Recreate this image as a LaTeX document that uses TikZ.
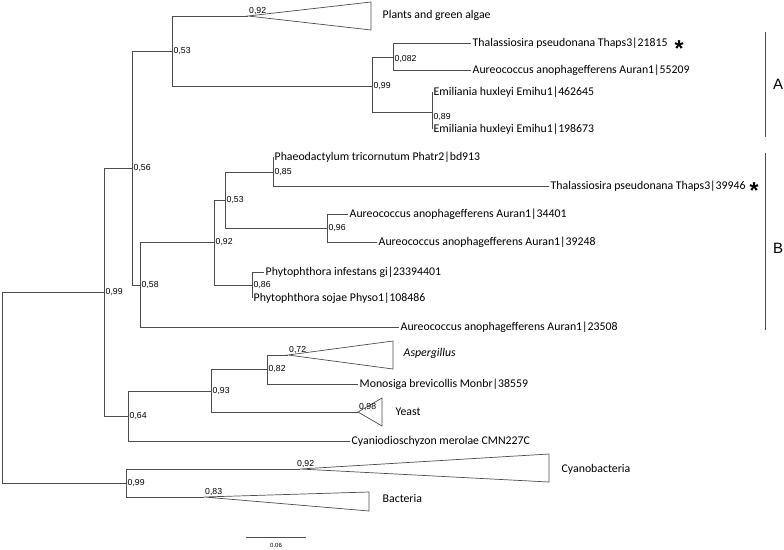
\documentclass[tikz,border=0pt]{standalone}
\usepackage{fontspec}
\setmainfont{Carlito}
\newfontfamily\supportfont{Liberation Sans}
\usetikzlibrary{calc}

\begin{document}
\begin{tikzpicture}[x=1pt,y=-1pt,
  branch/.style={draw=black!70, line width=0.7pt},
  leaf/.style={anchor=west, inner sep=1.5pt, font=\fontsize{11.8}{14}\selectfont},
  support/.style={anchor=west, inner sep=1.5pt, font=\supportfont\fontsize{8.7}{10}\selectfont},
  apexsup/.style={anchor=south west, inner sep=1pt, font=\supportfont\fontsize{8.7}{10}\selectfont},
  groupmark/.style={anchor=center, inner sep=0pt, font=\supportfont\fontsize{15}{15}\selectfont},
  starmark/.style={anchor=center, inner sep=0pt, font=\supportfont\bfseries\fontsize{23}{23}\selectfont}]
  \useasboundingbox (0,0) rectangle (784,549);

  % Internal nodes of the tree
  \coordinate (root) at (2,292);
  \coordinate (n099a) at (104,292);
  \coordinate (n056) at (132,168);
  \coordinate (n053a) at (172,51);
  \coordinate (n099b) at (372,86);
  \coordinate (n082a) at (393,57);
  \coordinate (n089) at (432,112);
  \coordinate (n058) at (140,285);
  \coordinate (n092a) at (214,242);
  \coordinate (n053b) at (225,200);
  \coordinate (n085) at (273,172);
  \coordinate (n096) at (327,228);
  \coordinate (n086) at (252,285);
  \coordinate (n064) at (128,416);
  \coordinate (n093) at (211,391);
  \coordinate (n082b) at (267,369);
  \coordinate (n099c) at (126,483);

  % Collapsed clades (apex and the two far corners)
  \coordinate (plantsA) at (248,16);
  \coordinate (plantsT) at (371,2);
  \coordinate (plantsB) at (371,30);
  \coordinate (asperA) at (288,355);
  \coordinate (asperT) at (393,341);
  \coordinate (asperB) at (393,369);
  \coordinate (yeastA) at (358,412);
  \coordinate (yeastT) at (382,398);
  \coordinate (yeastB) at (382,426);
  \coordinate (cyanoA) at (300,469);
  \coordinate (cyanoT) at (549,454);
  \coordinate (cyanoB) at (549,482);
  \coordinate (bactA) at (204,497);
  \coordinate (bactT) at (369,492);
  \coordinate (bactB) at (369,511);

  % Leaf labels
  \node[leaf] (plants) at (381,15) {Plants and green algae};
  \node[leaf] (t21815) at (471,43) {Thalassiosira pseudonana Thaps3|21815};
  \node[leaf] (a55209) at (471,70) {Aureococcus anophagefferens Auran1|55209};
  \node[leaf] (e462645) at (432,92) {Emiliania huxleyi Emihu1|462645};
  \node[leaf] (e198673) at (432,129) {Emiliania huxleyi Emihu1|198673};
  \node[leaf] (p913) at (273,157) {Phaeodactylum tricornutum Phatr2|bd913};
  \node[leaf] (t39946) at (549,186) {Thalassiosira pseudonana Thaps3|39946};
  \node[leaf] (a34401) at (348,214) {Aureococcus anophagefferens Auran1|34401};
  \node[leaf] (a39248) at (377,242) {Aureococcus anophagefferens Auran1|39248};
  \node[leaf] (pinf) at (264,272) {Phytophthora infestans gi|23394401};
  \node[leaf] (psoj) at (252,298) {Phytophthora sojae Physo1|108486};
  \node[leaf] (a23508) at (399,327) {Aureococcus anophagefferens Auran1|23508};
  \node[leaf] (asper) at (402,353) {\itshape Aspergillus};
  \node[leaf] (monbr) at (358,384) {Monosiga brevicollis Monbr|38559};
  \node[leaf] (yeast) at (394,412) {Yeast};
  \node[leaf] (cyanid) at (350,441) {Cyaniodioschyzon merolae CMN227C};
  \node[leaf] (cyano) at (560,469) {Cyanobacteria};
  \node[leaf] (bact) at (381,498) {Bacteria};

  % Branches
  \draw[branch] (root) -- (n099a);
  \draw[branch] (root) |- (n099c);
  \draw[branch] (n099a) |- (n056);
  \draw[branch] (n099a) |- (n064);
  \draw[branch] (n056) |- (n053a);
  \draw[branch] (n056) |- (n058);
  \draw[branch] (n053a) |- (plantsA);
  \draw[branch] (n053a) |- (n099b);
  \draw[branch] (n099b) |- (n082a);
  \draw[branch] (n099b) |- (n089);
  \draw[branch] (n082a) |- (t21815.west);
  \draw[branch] (n082a) |- (a55209.west);
  \draw[branch] (n089) |- (e462645.west);
  \draw[branch] (n089) |- (e198673.west);
  \draw[branch] (n058) |- (n092a);
  \draw[branch] (n058) |- (a23508.west);
  \draw[branch] (n092a) |- (n053b);
  \draw[branch] (n092a) |- (n086);
  \draw[branch] (n053b) |- (n085);
  \draw[branch] (n053b) |- (n096);
  \draw[branch] (n085) |- (p913.west);
  \draw[branch] (n085) |- (t39946.west);
  \draw[branch] (n096) |- (a34401.west);
  \draw[branch] (n096) |- (a39248.west);
  \draw[branch] (n086) |- (pinf.west);
  \draw[branch] (n086) |- (psoj.west);
  \draw[branch] (n064) |- (n093);
  \draw[branch] (n064) |- (cyanid.west);
  \draw[branch] (n093) |- (n082b);
  \draw[branch] (n093) |- (yeastA);
  \draw[branch] (n082b) |- (asperA);
  \draw[branch] (n082b) |- (monbr.west);
  \draw[branch] (n099c) |- (cyanoA);
  \draw[branch] (n099c) |- (bactA);

  % Collapsed clades
  \draw[branch] (plantsA) -- (plantsT) -- (plantsB) -- cycle;
  \draw[branch] (asperA) -- (asperT) -- (asperB) -- cycle;
  \draw[branch] (yeastA) -- (yeastT) -- (yeastB) -- cycle;
  \draw[branch] (cyanoA) -- (cyanoT) -- (cyanoB) -- cycle;
  \draw[branch] (bactA) -- (bactT) -- (bactB) -- cycle;

  % Support values
  \node[support] (s099a) at (n099a) {0,99};
  \node[support] (s056) at (n056) {0,56};
  \node[support] (s053a) at (n053a) {0,53};
  \node[support] (s099b) at (n099b) {0,99};
  \node[support] (s082a) at ($(n082a)+(0,2)$) {0,082};
  \node[support] (s089) at ($(n089)+(0,5)$) {0,89};
  \node[support] (s058) at (n058) {0,58};
  \node[support] (s092a) at (n092a) {0,92};
  \node[support] (s053b) at (n053b) {0,53};
  \node[support] (s085) at (n085) {0,85};
  \node[support] (s096) at (n096) {0,96};
  \node[support] (s086) at (n086) {0,86};
  \node[support] (s064) at (n064) {0,64};
  \node[support] (s093) at (n093) {0,93};
  \node[support] (s082b) at (n082b) {0,82};
  \node[support] (s099c) at (n099c) {0,99};
  \node[apexsup] (s092p) at (plantsA) {0,92};
  \node[apexsup] (s072) at (asperA) {0,72};
  \node[apexsup] (s098) at (yeastA) {0,98};
  \node[apexsup] (s092c) at ($(cyanoA)+(-4,0)$) {0,92};
  \node[apexsup] (s083) at (bactA) {0,83};

  % Stars on the Thalassiosira copies
  \node[starmark] (star1) at (679,49) {*};
  \node[starmark] (star2) at (754,191) {*};

  % Group bars A and B
  \coordinate (barAtop) at (765,32);
  \coordinate (barAbot) at (765,137);
  \coordinate (barBtop) at (765,153);
  \coordinate (barBbot) at (765,330);
  \draw[branch] (barAtop) -- (barAbot);
  \draw[branch] (barBtop) -- (barBbot);
  \node[groupmark] (grpA) at (778,84) {A};
  \node[groupmark] (grpB) at (778,248) {B};

  % Scale bar
  \coordinate (scaleL) at (246,537);
  \coordinate (scaleR) at (306,537);
  \draw[branch] (scaleL) -- (scaleR);
  \node[font=\supportfont\fontsize{6}{6}\selectfont, inner sep=0pt] (scalelab) at (276,545) {0.06};
\end{tikzpicture}
\end{document}
